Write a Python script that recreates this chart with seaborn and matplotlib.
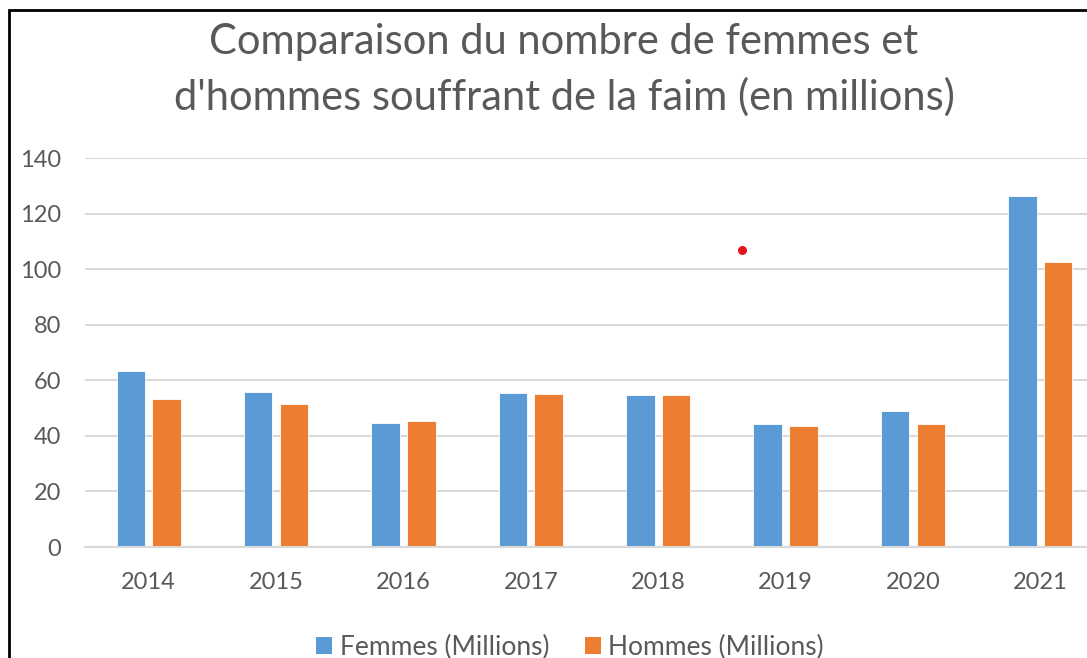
import matplotlib
matplotlib.use("Agg")
import matplotlib.pyplot as plt
import seaborn as sns
import pandas as pd
from matplotlib.patches import Rectangle, Patch

years = ["2014", "2015", "2016", "2017", "2018", "2019", "2020", "2021"]
femmes = [63.5, 55.7, 44.6, 55.6, 54.6, 44.4, 48.9, 126.4]
hommes = [53.3, 51.5, 45.4, 55.0, 54.6, 43.6, 44.4, 102.6]
series_names = ["Femmes (Millions)", "Hommes (Millions)"]
colors = ["#5B9BD5", "#ED7D31"]
title = "Comparaison du nombre de femmes et\nd'hommes souffrant de la faim (en millions)"
yticks = [0, 20, 40, 60, 80, 100, 120, 140]
stray_x = [4.66]
stray_y = [107]

df = pd.DataFrame({
    "year": years * 2,
    "value": femmes + hommes,
    "serie": [series_names[0]] * len(years) + [series_names[1]] * len(years),
})

sns.set_theme(style="white")
plt.rcParams['font.family'] = ['Lato', 'DejaVu Sans']

W, H = 1087, 658
fig = plt.figure(figsize=(W / 100, H / 100), dpi=100)
ax = fig.add_axes([85 / W, 1 - 547 / H, 1019 / W, (547 - 158) / H])

sns.barplot(data=df, x="year", y="value", hue="serie", order=years,
            hue_order=series_names, palette=colors, width=0.56, gap=0.2,
            saturation=1, edgecolor="white", linewidth=0.6, ax=ax, legend=False)

ax.scatter(stray_x, stray_y, s=30, color="#E8141C", zorder=5)

ax.set_xlim(-0.5, 7.5)
ax.set_ylim(0, 140)
ax.set_yticks(yticks)
ax.yaxis.grid(True, color="#D9D9D9", linewidth=1.5)
ax.set_axisbelow(True)
for s in ["top", "right", "left"]:
    ax.spines[s].set_visible(False)
ax.spines["bottom"].set_color("#D9D9D9")
ax.spines["bottom"].set_linewidth(1.5)
ax.tick_params(axis="both", length=0, labelsize=17, labelcolor="#595959")
ax.tick_params(axis="y", pad=17)
ax.tick_params(axis="x", pad=18)
ax.set_xlabel("")
ax.set_ylabel("")

fig.text(564 / W, 1 - 70 / H, title, ha="center", va="center", fontsize=30,
         color="#595959", linespacing=1.5)

handles = [Patch(facecolor=c, edgecolor="none") for c in colors]
fig.legend(handles, series_names, loc="center", bbox_to_anchor=(570 / W, 1 - 647 / H),
           ncol=2, frameon=False, fontsize=19, labelcolor="#595959",
           handlelength=0.6, handleheight=0.6, handletextpad=0.3, columnspacing=1.35)

fig.patches.append(Rectangle((9 / W, -0.1), 1.2, 1 - 10 / H + 0.1, transform=fig.transFigure,
                             fill=False, edgecolor="black", linewidth=2))

fig.savefig("out.png", dpi=100, facecolor="white")
